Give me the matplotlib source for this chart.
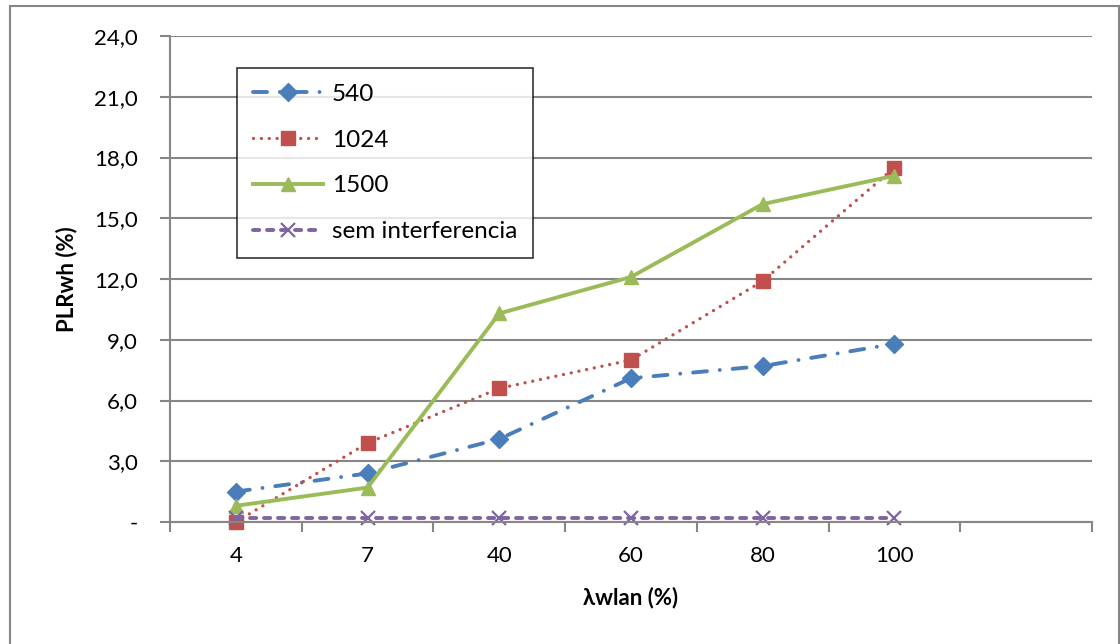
import matplotlib
matplotlib.use('Agg')
import matplotlib.pyplot as plt
from matplotlib.patches import Rectangle
import numpy as np

plt.rcParams['font.family'] = ['Lato', 'DejaVu Sans']

# category axis: offered WLAN load
categorias = ['4', '7', '40', '60', '80', '100']

# PLR values (%) per packet size
plr_540 = [1.5, 2.4, 4.1, 7.1, 7.7, 8.8]
plr_1024 = [0.0, 3.9, 6.6, 8.0, 11.9, 17.5]
plr_1500 = [0.8, 1.7, 10.3, 12.1, 15.7, 17.1]
plr_sem = [0.2, 0.2, 0.2, 0.2, 0.2, 0.2]

y_ticks = [0, 3, 6, 9, 12, 15, 18, 21, 24]
y_labels = ['-', '3,0', '6,0', '9,0', '12,0', '15,0', '18,0', '21,0', '24,0']

grid_cor = '#868686'
fs = 16

fig = plt.figure(figsize=(11.2, 6.44), dpi=100)
ax = fig.add_axes([170/1120, 1 - 522/644, 922/1120, 486/644])

x = np.arange(len(categorias))

ax.plot(x, plr_540, color='#4A7EBB', lw=2.8, marker='D', ms=9,
        linestyle=(0, (3.6, 3.3, 0.01, 3.3)), dash_capstyle='round',
        label='540', clip_on=False)
ax.plot(x, plr_1024, color='#C0504D', lw=2.4, marker='s', ms=10.5,
        linestyle=(0, (0.01, 2.35)), dash_capstyle='round',
        label='1024', clip_on=False)
ax.plot(x, plr_1500, color='#9BBB59', lw=2.8, marker='^', ms=10,
        linestyle='-', label='1500', clip_on=False)
ax.plot(x, plr_sem, color='#8064A2', lw=2.8, marker='x', ms=10, mew=1.6,
        linestyle=(0, (1.6, 2.0)), dash_capstyle='round',
        label='sem interferencia', clip_on=False)

# 7 category slots, the last one stays empty
ax.set_xlim(-0.5, 6.5)
ax.set_ylim(0, 24)
ax.set_xticks(np.arange(-0.5, 7, 1))
ax.set_xticklabels([])
ax.set_xticks(x, minor=True)
ax.set_xticklabels(categorias, minor=True)
ax.tick_params(axis='x', which='major', length=7, width=1.5, color=grid_cor, direction='out')
ax.tick_params(axis='x', which='minor', length=0, pad=17, labelsize=fs)

ax.set_yticks(y_ticks)
ax.set_yticklabels(y_labels)
ax.tick_params(axis='y', length=7, width=1.5, color=grid_cor, direction='out', labelsize=fs, pad=16)

ax.grid(axis='y', color=grid_cor, lw=1.5)
ax.set_axisbelow(True)
for s in ['top', 'right']:
    ax.spines[s].set_visible(False)
for s in ['left', 'bottom']:
    ax.spines[s].set_color(grid_cor)
    ax.spines[s].set_linewidth(1.5)

ax.set_xlabel('λwlan (%)', fontsize=fs, fontweight='bold', labelpad=15)
ax.set_ylabel('PLRwh (%)', fontsize=fs, fontweight='bold', labelpad=12)

leg = ax.legend(loc='upper left', bbox_to_anchor=((237 - 170)/922, (522 - 68)/486),
                fontsize=17.5, frameon=True, fancybox=False, handlelength=2.9,
                labelspacing=1.02, borderpad=0.65, handletextpad=0.35, borderaxespad=0)
leg.get_frame().set_edgecolor('black')
leg.get_frame().set_linewidth(1.2)

# chart border
fig.patches.append(Rectangle((10/1120, -0.05), 1109/1120, 1.05 - 6/644,
                             transform=fig.transFigure, fill=False,
                             edgecolor=grid_cor, lw=1.5))

fig.savefig('out.png', dpi=100)
